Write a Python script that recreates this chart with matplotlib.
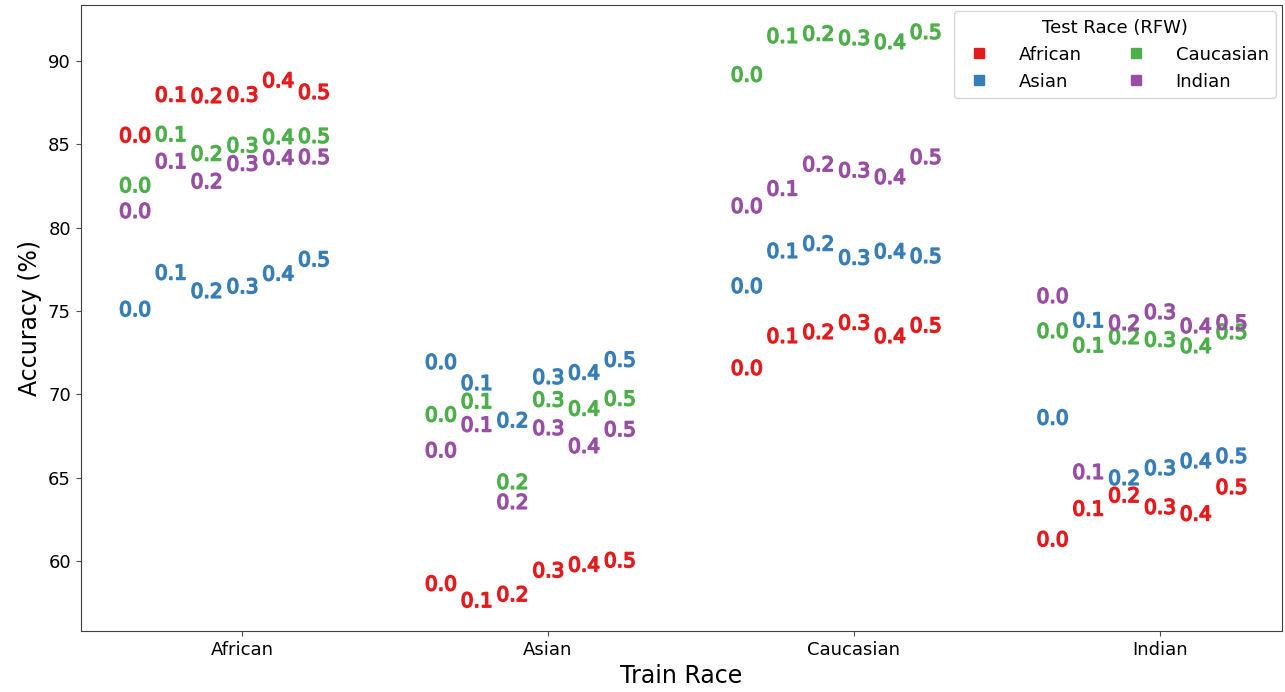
import matplotlib
matplotlib.use("Agg")
import matplotlib.pyplot as plt
import matplotlib.patheffects as pe
from matplotlib.lines import Line2D

train_races = ["African", "Asian", "Caucasian", "Indian"]
test_races = ["African", "Asian", "Caucasian", "Indian"]
lambdas = [0.0, 0.1, 0.2, 0.3, 0.4, 0.5]
lambda_labels = ["0.0", "0.1", "0.2", "0.3", "0.4", "0.5"]
colors = {"African": "#e41a1c", "Asian": "#377eb8",
          "Caucasian": "#4daf4a", "Indian": "#984ea3"}

# accuracy[train][test] -> one value per lambda
acc_african = {
    "African":   [85.46, 87.90, 87.82, 87.90, 88.76, 88.06],
    "Asian":     [75.02, 77.22, 76.12, 76.40, 77.16, 78.02],
    "Caucasian": [82.46, 85.52, 84.36, 84.86, 85.36, 85.42],
    "Indian":    [80.92, 83.90, 82.70, 83.76, 84.12, 84.16],
}
acc_asian = {
    "African":   [58.56, 57.56, 57.92, 59.36, 59.70, 59.96],
    "Asian":     [71.86, 70.60, 68.36, 70.96, 71.22, 72.00],
    "Caucasian": [68.70, 69.50, 64.66, 69.60, 69.06, 69.66],
    "Indian":    [66.56, 68.10, 63.46, 67.90, 66.82, 67.82],
}
acc_caucasian = {
    "African":   [71.50, 73.42, 73.66, 74.22, 73.42, 74.06],
    "Asian":     [76.42, 78.52, 78.96, 78.12, 78.50, 78.22],
    "Caucasian": [89.10, 91.42, 91.56, 91.30, 91.06, 91.66],
    "Indian":    [81.22, 82.26, 83.72, 83.36, 82.96, 84.16],
}
acc_indian = {
    "African":   [61.22, 63.06, 63.86, 63.16, 62.76, 64.36],
    "Asian":     [68.52, 74.36, 64.90, 65.50, 65.92, 66.22],
    "Caucasian": [73.72, 72.86, 73.36, 73.20, 72.82, 73.66],
    "Indian":    [75.82, 65.26, 74.20, 74.86, 74.02, 74.22],
}
accuracy = {"African": acc_african, "Asian": acc_asian,
            "Caucasian": acc_caucasian, "Indian": acc_indian}

fig = plt.figure(figsize=(12.85, 6.92), dpi=100)
ax = fig.add_axes((0.0628, 0.0882, 0.9349, 0.9046))

# each lambda is drawn as its own label, spread around the train race position
for i, train in enumerate(train_races):
    for test in test_races:
        for lam, lab, val in zip(lambdas, lambda_labels, accuracy[train][test]):
            x = i - 0.35 + 1.17 * lam
            ax.text(x, val, lab, color=colors[test], fontsize=14.5,
                    ha="center", va="center",
                    path_effects=[pe.withStroke(linewidth=1.1, foreground=colors[test])])

ax.set_xlim(-0.528, 3.40)
ax.set_ylim(55.8, 93.36)
ax.set_xticks(range(len(train_races)))
ax.set_xticklabels(train_races)
ax.set_yticks([60, 65, 70, 75, 80, 85, 90])
ax.tick_params(labelsize=13, color="0.3")
for s in ax.spines.values():
    s.set_color("0.25")
ax.set_xlabel("Train Race", fontsize=17)
ax.set_ylabel("Accuracy (%)", fontsize=17)

handles = [Line2D([], [], marker="s", linestyle="", markersize=7,
                  color=colors[t], label=t) for t in test_races]
ax.legend(handles=handles, title="Test Race (RFW)", ncol=2, loc="upper right",
          fontsize=13, title_fontsize=13, columnspacing=2.0,
          handletextpad=1.2, borderaxespad=0.35)

fig.savefig("out.png", dpi=100)
